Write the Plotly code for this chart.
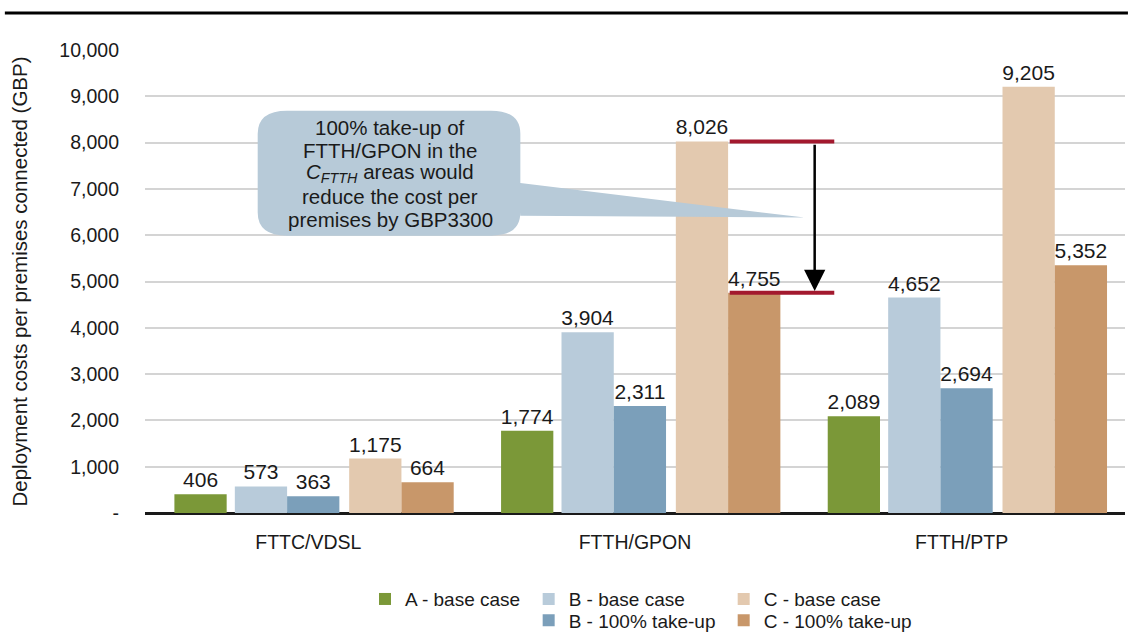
import plotly.graph_objects as go

# ---- data ----
categories = ["FTTC/VDSL", "FTTH/GPON", "FTTH/PTP"]
series_names = ["A - base case", "B - base case", "B - 100% take-up",
                "C - base case", "C - 100% take-up"]
a_base = [406, 1774, 2089]
b_base = [573, 3904, 4652]
b_full = [363, 2311, 2694]
c_base = [1175, 8026, 9205]
c_full = [664, 4755, 5352]
y_ticks = [0, 1000, 2000, 3000, 4000, 5000, 6000, 7000, 8000, 9000, 10000]
y_ticktext = ["-"] + [f"{v:,}" for v in y_ticks[1:]]
callout_lines = ["100% take-up of", "FTTH/GPON in the",
                 "<i>C<sub>FTTH</sub></i> areas would",
                 "reduce the cost per", "premises by GBP3300"]

# ---- styling ----
FONT = "Arial, Liberation Sans, sans-serif"
INK = "#1a1a1a"
colors = ["#7b9838", "#b8cbda", "#7b9fba", "#e3c9af", "#c8976a"]
offsets = [-0.41, -0.225, -0.065, 0.125, 0.285]
legend_ids = ["legend", "legend2", "legend4", "legend3", "legend5"]
BW = 0.16

fig = go.Figure()
for name, vals, col, off, lg in zip(series_names,
                                    [a_base, b_base, b_full, c_base, c_full],
                                    colors, offsets, legend_ids):
    fig.add_trace(go.Bar(
        x=categories, y=vals, name=name, legend=lg,
        marker=dict(color=col, line=dict(width=0)),
        width=BW, offset=off,
        text=[f"{v:,}" for v in vals], textposition="outside",
        constraintext="none", cliponaxis=False,
        textfont=dict(family=FONT, size=21, color=INK),
    ))

# ---- callout: red level lines and arrow ----
drop_top, drop_bot = c_base[1], c_full[1]
for yv in (drop_top, drop_bot):
    fig.add_shape(type="line", xref="x", yref="y",
                  x0=1.29, x1=1.61, y0=yv, y1=yv,
                  line=dict(color="#a3192e", width=4))
fig.add_annotation(xref="x", yref="y", axref="x", ayref="y",
                   x=1.55, y=drop_bot + 40, ax=1.55, ay=drop_top - 40,
                   text="", showarrow=True, arrowhead=2, arrowsize=1.7,
                   arrowwidth=2.5, arrowcolor="black")

# speech bubble
bx0, bx1, by0, by1, r = 0.115, 0.383, 5990, 8690, 0.03
ry = 500
bubble = (f"M {bx0+r},{by1} L {bx1-r},{by1} Q {bx1},{by1} {bx1},{by1-ry} "
          f"L {bx1},7130 L 0.673,6380 L {bx1},6420 "
          f"L {bx1},{by0+ry} Q {bx1},{by0} {bx1-r},{by0} "
          f"L {bx0+r},{by0} Q {bx0},{by0} {bx0},{by0+ry} "
          f"L {bx0},{by1-ry} Q {bx0},{by1} {bx0+r},{by1} Z")
fig.add_shape(type="path", xref="paper", yref="y", path=bubble,
              fillcolor="#b7cad8", line=dict(width=0), layer="above")
line_y = [8320, 7825, 7345, 6830, 6335]
for txt, yv in zip(callout_lines, line_y):
    fig.add_annotation(xref="paper", yref="y", x=0.25, y=yv,
                       xanchor="center", yanchor="middle",
                       text=txt, showarrow=False,
                       font=dict(family=FONT, size=20.5, color=INK))

# top rule
fig.add_shape(type="line", xref="paper", yref="paper",
              x0=-0.143, x1=1.003, y0=1.08, y1=1.08,
              line=dict(color="black", width=3))

leg_common = dict(orientation="v", xanchor="left", yanchor="middle",
                  font=dict(family=FONT, size=19, color=INK),
                  bgcolor="rgba(0,0,0,0)", itemwidth=30,
                  borderwidth=0)
row1, row2 = -0.186, -0.232
fig.update_layout(
    width=1128, height=632,
    barmode="overlay",
    paper_bgcolor="white", plot_bgcolor="white",
    margin=dict(l=145, r=3, t=50, b=119, autoexpand=False),
    font=dict(family=FONT, size=19.5, color=INK),
    showlegend=True,
    legend=dict(x=0.2245, y=row1, **leg_common),
    legend2=dict(x=0.3915, y=row1, **leg_common),
    legend3=dict(x=0.5905, y=row1, **leg_common),
    legend4=dict(x=0.3915, y=row2, **leg_common),
    legend5=dict(x=0.5905, y=row2, **leg_common),
)
fig.update_xaxes(type="category", range=[-0.5, 2.5], showgrid=False,
                 ticks="", showline=False, zeroline=False,
                 ticklabelstandoff=15, automargin=False,
                 tickfont=dict(family=FONT, size=19.5, color=INK))
fig.update_yaxes(range=[0, 10000], tickvals=y_ticks, ticktext=y_ticktext,
                 showgrid=True, gridcolor="#d4d4d4", gridwidth=2,
                 zeroline=True, zerolinecolor=INK, zerolinewidth=3,
                 ticks="", ticklabelstandoff=25, automargin=False,
                 tickfont=dict(family=FONT, size=19.5, color=INK),
                 title=dict(text="Deployment costs per premises connected (GBP)",
                            font=dict(family=FONT, size=20.5, color=INK),
                            standoff=26))

# drop the browser's default body margin so the figure sits at 0,0
fig.write_html("out.html", config=dict(displayModeBar=False),
               post_script="document.body.style.margin='0';")
